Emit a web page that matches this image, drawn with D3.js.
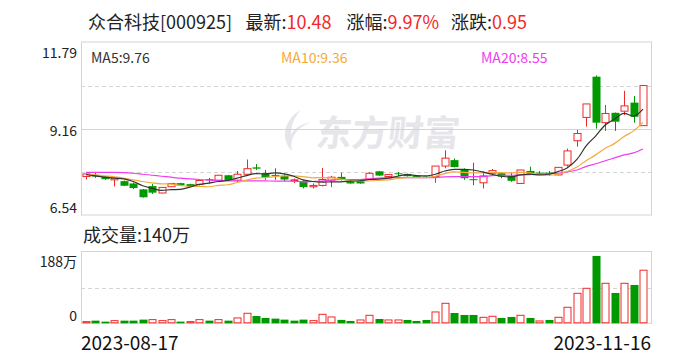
<!DOCTYPE html>
<html>
<head>
<meta charset="utf-8">
<script src="https://cdn.jsdelivr.net/npm/d3@7"></script>
<style>
  body { margin: 0; background: #fff; }
  svg { display: block; font-family: "Noto Sans CJK SC", "Noto Sans", sans-serif; }
</style>
</head>
<body>
<div id="chart"></div>
<script>
(function () {
  "use strict";

  // ── Datos ──────────────────────────────────────────────
  const dates = [
    "2023-08-17", "2023-08-18", "2023-08-21", "2023-08-22", "2023-08-23", "2023-08-24", "2023-08-25", "2023-08-28", "2023-08-29", "2023-08-30",
    "2023-08-31", "2023-09-01", "2023-09-04", "2023-09-05", "2023-09-06", "2023-09-07", "2023-09-08", "2023-09-11", "2023-09-12", "2023-09-13",
    "2023-09-14", "2023-09-15", "2023-09-18", "2023-09-19", "2023-09-20", "2023-09-21", "2023-09-22", "2023-09-25", "2023-09-26", "2023-09-27",
    "2023-09-28", "2023-10-09", "2023-10-10", "2023-10-11", "2023-10-12", "2023-10-13", "2023-10-16", "2023-10-17", "2023-10-18", "2023-10-19",
    "2023-10-20", "2023-10-23", "2023-10-24", "2023-10-25", "2023-10-26", "2023-10-27", "2023-10-30", "2023-10-31", "2023-11-01", "2023-11-02",
    "2023-11-03", "2023-11-06", "2023-11-07", "2023-11-08", "2023-11-09", "2023-11-10", "2023-11-13", "2023-11-14", "2023-11-15", "2023-11-16"
  ];

  const open = [
    7.71, 7.76, 7.71, 7.61, 7.57, 7.50, 7.32, 7.42, 7.21, 7.40,
    7.51, 7.48, 7.47, 7.63, 7.60, 7.75, 7.60, 7.78, 7.99, 7.81,
    7.76, 7.73, 7.59, 7.57, 7.40, 7.44, 7.60, 7.70, 7.56, 7.57,
    7.63, 7.87, 7.71, 7.81, 7.79, 7.73, 7.71, 7.71, 8.03, 8.21,
    7.91, 7.63, 7.52, 7.81, 7.81, 7.73, 7.50, 7.88, 7.83, 7.83,
    7.76, 8.06, 8.80, 9.51, 10.75, 9.35, 9.65, 9.70, 9.96, 9.26
  ];
  const high = [
    7.80, 7.83, 7.72, 7.68, 7.59, 7.53, 7.33, 7.48, 7.39, 7.51,
    7.52, 7.49, 7.63, 7.67, 7.76, 7.76, 7.88, 8.23, 8.09, 7.91,
    7.96, 7.79, 7.65, 7.60, 7.50, 7.97, 7.73, 7.83, 7.57, 7.63,
    7.84, 7.88, 7.78, 7.85, 7.80, 7.74, 7.72, 8.03, 8.51, 8.26,
    7.96, 8.13, 7.86, 7.94, 7.81, 7.83, 7.91, 8.01, 7.88, 7.88,
    7.99, 8.56, 9.13, 9.92, 10.79, 9.89, 9.66, 10.32, 10.16, 10.48
  ];
  const low = [
    7.62, 7.67, 7.61, 7.41, 7.42, 7.33, 7.07, 7.18, 7.20, 7.39,
    7.43, 7.41, 7.44, 7.50, 7.60, 7.58, 7.54, 7.76, 7.91, 7.61,
    7.61, 7.57, 7.51, 7.35, 7.35, 7.41, 7.39, 7.59, 7.49, 7.49,
    7.61, 7.73, 7.70, 7.72, 7.71, 7.69, 7.66, 7.52, 7.96, 7.99,
    7.61, 7.45, 7.35, 7.76, 7.66, 7.55, 7.49, 7.76, 7.76, 7.73,
    7.75, 8.01, 8.62, 9.23, 9.17, 9.10, 9.10, 9.58, 9.35, 9.26
  ];
  const close = [
    7.79, 7.71, 7.63, 7.66, 7.43, 7.36, 7.08, 7.22, 7.38, 7.50,
    7.44, 7.42, 7.59, 7.61, 7.75, 7.59, 7.78, 7.95, 7.95, 7.68,
    7.73, 7.62, 7.61, 7.39, 7.44, 7.62, 7.69, 7.61, 7.50, 7.50,
    7.81, 7.74, 7.77, 7.79, 7.72, 7.70, 7.67, 8.03, 8.27, 8.00,
    7.66, 7.61, 7.73, 7.89, 7.71, 7.58, 7.91, 7.79, 7.82, 7.81,
    7.99, 8.49, 9.02, 9.92, 9.35, 9.63, 9.38, 9.86, 9.53, 10.48
  ];

  const ma5 = [
    7.77, 7.73, 7.69, 7.66, 7.64, 7.56, 7.43, 7.35, 7.29, 7.31,
    7.32, 7.39, 7.47, 7.51, 7.56, 7.59, 7.66, 7.74, 7.80, 7.79,
    7.82, 7.79, 7.72, 7.61, 7.56, 7.54, 7.55, 7.55, 7.57, 7.58,
    7.62, 7.63, 7.66, 7.72, 7.77, 7.74, 7.73, 7.78, 7.88, 7.93,
    7.93, 7.91, 7.85, 7.78, 7.72, 7.70, 7.76, 7.78, 7.76, 7.78,
    7.86, 7.98, 8.23, 8.65, 8.95, 9.28, 9.46, 9.63, 9.55, 9.76
  ];
  const ma10 = [
    7.78, 7.76, 7.73, 7.70, 7.66, 7.61, 7.56, 7.52, 7.49, 7.48,
    7.44, 7.41, 7.41, 7.40, 7.44, 7.46, 7.53, 7.60, 7.66, 7.68,
    7.71, 7.73, 7.73, 7.71, 7.67, 7.68, 7.67, 7.63, 7.59, 7.57,
    7.58, 7.59, 7.61, 7.65, 7.68, 7.68, 7.68, 7.72, 7.80, 7.85,
    7.84, 7.82, 7.82, 7.83, 7.83, 7.82, 7.84, 7.82, 7.77, 7.75,
    7.78, 7.87, 8.00, 8.20, 8.37, 8.57, 8.72, 8.93, 9.10, 9.36
  ];
  const ma20 = [
    7.84, 7.84, 7.84, 7.84, 7.83, 7.81, 7.78, 7.75, 7.72, 7.69,
    7.66, 7.64, 7.62, 7.60, 7.59, 7.58, 7.58, 7.58, 7.58, 7.58,
    7.57, 7.57, 7.57, 7.55, 7.56, 7.57, 7.60, 7.62, 7.62, 7.62,
    7.64, 7.66, 7.67, 7.68, 7.68, 7.68, 7.68, 7.68, 7.70, 7.71,
    7.71, 7.71, 7.71, 7.74, 7.75, 7.75, 7.76, 7.77, 7.79, 7.80,
    7.81, 7.85, 7.91, 8.02, 8.10, 8.19, 8.28, 8.37, 8.43, 8.55
  ];

  // Volumen en 万, y dirección (1 = rojo, 0 = verde)
  const volume = [
    4.4, 7.0, 4.4, 7.0, 7.0, 7.0, 9.7, 9.7, 7.0, 9.7,
    4.4, 4.4, 9.7, 7.0, 9.7, 7.0, 14.1, 26.4, 19.3, 14.1,
    12.3, 9.7, 7.0, 9.7, 7.0, 23.7, 16.7, 9.0, 6.2, 8.8,
    21.1, 11.4, 8.8, 8.8, 8.8, 6.2, 8.8, 29.9, 52.7, 27.2,
    22.0, 22.0, 15.8, 18.5, 14.1, 16.7, 21.1, 14.1, 6.2, 8.8,
    15.8, 42.2, 79.1, 92.3, 177.6, 105.5, 80.0, 105.5, 101.1, 140
  ];
  const volUp = [
    1, 0, 0, 1, 0, 0, 0, 1, 1, 1,
    0, 1, 1, 0, 1, 0, 1, 1, 0, 0,
    0, 0, 0, 0, 1, 1, 1, 0, 0, 1,
    1, 0, 1, 1, 0, 0, 0, 1, 1, 0,
    0, 0, 1, 1, 0, 0, 1, 0, 1, 0,
    1, 1, 1, 1, 0, 1, 0, 1, 0, 1
  ];

  const priceTicks = [11.79, 9.16, 6.54];
  const volTicks = [188, 0];
  const header = { name: "众合科技[000925]", last: "10.48", pct: "9.97%", chg: "0.95" };

  // ── Configuración ──────────────────────────────────────
  const W = 688, H = 360;
  const RED = "#f02828";
  const GREEN = "#009a00";
  const GRID = "#d4d4d4";
  const PLOT = { left: 81, right: 651, top: 42.5, bottom: 215 };
  const VOL = { top: 252, bottom: 323.3 };
  const MA_COLORS = { ma5: "#333333", ma10: "#f5a93a", ma20: "#f03cf0" };

  const svg = d3.select("#chart").append("svg").attr("width", W).attr("height", H);

  // Escalas
  const x = d3.scaleBand().domain(d3.range(close.length)).range([81.3, 647.7]).paddingInner(0.25).paddingOuter(0.125);
  const cx = (i) => x(i) + x.bandwidth() / 2;
  const y = d3.scaleLinear().domain([priceTicks[2], priceTicks[0]]).range([PLOT.bottom, PLOT.top]);
  const yv = d3.scaleLinear().domain([0, volTicks[0]]).range([VOL.bottom, VOL.top]);

  // ── Título ─────────────────────────────────────────────
  const title = svg.append("text").attr("y", 21).attr("dominant-baseline", "central").attr("font-size", "18px").attr("fill", "#222");
  title.append("tspan").attr("x", 88).text(header.name);
  title.append("tspan").attr("x", 245.5).text("最新:");
  title.append("tspan").attr("fill", RED).text(header.last);
  title.append("tspan").attr("x", 346.5).text("涨幅:");
  title.append("tspan").attr("fill", RED).text(header.pct);
  title.append("tspan").attr("x", 451).text("涨跌:");
  title.append("tspan").attr("fill", RED).text(header.chg);

  // ── Marca de agua ──────────────────────────────────────
  const wm = svg.append("g").attr("fill", "#e6e6ea");
  wm.append("path").attr("d", "M301,110 C284,119 280,139 292,151 C289,139 295,129 311,122 C300,124 294,129 291,135 C291,124 295,116 301,110 Z");
  wm.append("text").attr("x", 316).attr("y", 130).attr("dominant-baseline", "central").attr("font-size", "36px").attr("font-weight", "bold").attr("transform", "skewX(-6) translate(14,0)").text("东方财富");

  // ── Panel de precio ────────────────────────────────────
  const gPrice = svg.append("g");
  const midP = (priceTicks[0] + priceTicks[2]) / 2;
  const q1 = priceTicks[2] + (priceTicks[0] - priceTicks[2]) * 0.25;
  const q3 = priceTicks[2] + (priceTicks[0] - priceTicks[2]) * 0.75;
  [q3, q1].forEach((v) => {
    gPrice.append("line").attr("x1", PLOT.left).attr("x2", PLOT.right).attr("y1", Math.round(y(v)) + 0.5).attr("y2", Math.round(y(v)) + 0.5)
      .attr("stroke", GRID).attr("stroke-dasharray", "4,3");
  });
  gPrice.append("line").attr("x1", PLOT.left).attr("x2", PLOT.right).attr("y1", Math.round(y(midP)) + 0.5).attr("y2", Math.round(y(midP)) + 0.5).attr("stroke", GRID);
  gPrice.append("rect").attr("x", PLOT.left + 0.5).attr("y", PLOT.top - 0.5).attr("width", PLOT.right - PLOT.left).attr("height", PLOT.bottom - PLOT.top + 0.5)
    .attr("fill", "none").attr("stroke", GRID);

  // Etiquetas eje Y
  const offs = [9, 1, -8];
  priceTicks.forEach((v, k) => {
    svg.append("text").attr("x", 77).attr("y", y(v) + offs[k]).attr("text-anchor", "end").attr("dominant-baseline", "central")
      .attr("font-size", "14px").attr("fill", "#222").text(v.toFixed(2));
  });

  // Velas
  const gCandles = svg.append("g");
  const bw = Math.round(x.bandwidth());
  close.forEach((c, i) => {
    const up = c > open[i];
    const color = up ? RED : GREEN;
    const xc = Math.round(cx(i)) + 0.5;
    gCandles.append("line").attr("x1", xc).attr("x2", xc).attr("y1", y(high[i])).attr("y2", y(low[i])).attr("stroke", color);
    const top = y(Math.max(open[i], c));
    const h = Math.max(1, Math.abs(y(open[i]) - y(c)));
    const x0 = xc - bw / 2;
    if (up) {
      gCandles.append("rect").attr("x", x0).attr("y", top).attr("width", bw).attr("height", h).attr("fill", "#fff").attr("stroke", color);
    } else {
      gCandles.append("rect").attr("x", x0 - 0.5).attr("y", top).attr("width", bw + 1).attr("height", h).attr("fill", color);
    }
  });

  // Medias móviles
  const mas = { ma5, ma10, ma20 };
  const line = d3.line().x((d, i) => cx(i)).y((d) => y(d)).curve(d3.curveMonotoneX);
  ["ma20", "ma10", "ma5"].forEach((k) => {
    svg.append("path").attr("d", line(mas[k])).attr("fill", "none").attr("stroke", MA_COLORS[k]).attr("stroke-width", 1.2);
  });

  // Leyenda MA
  const legend = [
    { k: "ma5", label: "MA5", x: 91 },
    { k: "ma10", label: "MA10", x: 281 },
    { k: "ma20", label: "MA20", x: 481 },
  ];
  legend.forEach((l) => {
    const arr = mas[l.k];
    svg.append("text").attr("x", l.x).attr("y", 56.5).attr("dominant-baseline", "central").attr("font-size", "14px")
      .attr("fill", MA_COLORS[l.k]).text(`${l.label}:${arr[arr.length - 1].toFixed(2)}`);
  });

  // ── Panel de volumen ───────────────────────────────────
  svg.append("text").attr("x", 83).attr("y", 234).attr("dominant-baseline", "central").attr("font-size", "18px").attr("fill", "#222")
    .text(`成交量:${volume[volume.length - 1]}万`);

  const vMid = yv(volTicks[0] / 2);
  svg.append("line").attr("x1", PLOT.left).attr("x2", PLOT.right).attr("y1", Math.round(vMid) + 0.5).attr("y2", Math.round(vMid) + 0.5)
    .attr("stroke", GRID).attr("stroke-dasharray", "4,3");
  svg.append("rect").attr("x", PLOT.left + 0.5).attr("y", VOL.top - 0.5).attr("width", PLOT.right - PLOT.left).attr("height", VOL.bottom - VOL.top + 0.5)
    .attr("fill", "none").attr("stroke", GRID);

  svg.append("text").attr("x", 77).attr("y", yv(volTicks[0]) + 9).attr("text-anchor", "end").attr("dominant-baseline", "central")
    .attr("font-size", "14px").attr("fill", "#222").text(`${volTicks[0]}万`);
  svg.append("text").attr("x", 77).attr("y", yv(volTicks[1]) - 8).attr("text-anchor", "end").attr("dominant-baseline", "central")
    .attr("font-size", "14px").attr("fill", "#222").text(`${volTicks[1]}`);

  const gVol = svg.append("g");
  volume.forEach((v, i) => {
    const xc = Math.round(cx(i)) + 0.5;
    const x0 = xc - bw / 2;
    const top = yv(v);
    const h = Math.max(1, VOL.bottom - top);
    if (volUp[i]) {
      gVol.append("rect").attr("x", x0).attr("y", top).attr("width", bw).attr("height", h - 0.5).attr("fill", "#fff").attr("stroke", RED);
    } else {
      gVol.append("rect").attr("x", x0 - 0.5).attr("y", top).attr("width", bw + 1).attr("height", h).attr("fill", GREEN);
    }
  });

  // Fechas
  svg.append("text").attr("x", 81).attr("y", 341).attr("dominant-baseline", "central").attr("font-size", "19px").attr("fill", "#111").text(dates[0]);
  svg.append("text").attr("x", 651).attr("y", 341).attr("text-anchor", "end").attr("dominant-baseline", "central").attr("font-size", "19px")
    .attr("fill", "#111").text(dates[dates.length - 1]);
})();
</script>
</body>
</html>
